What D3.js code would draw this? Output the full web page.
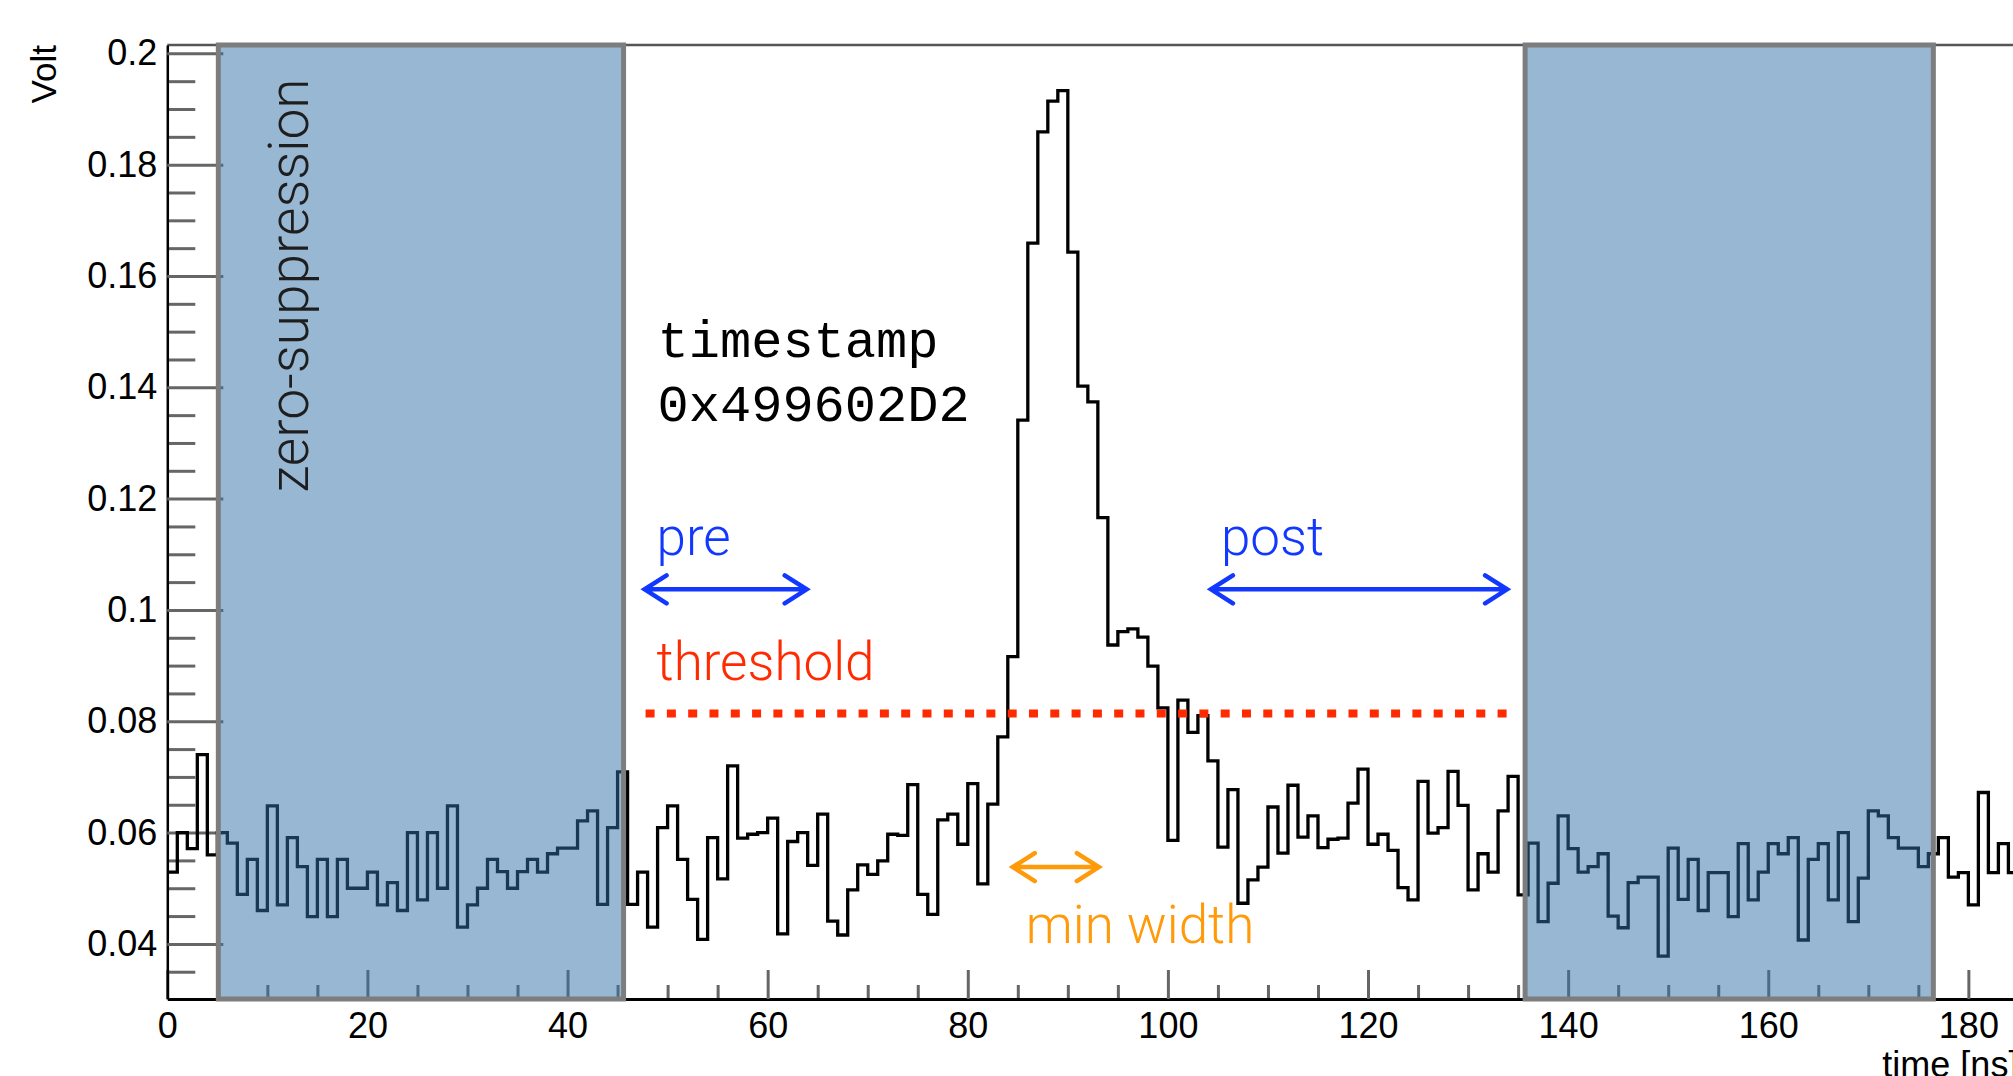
<!DOCTYPE html>
<html>
<head>
<meta charset="utf-8">
<script src="https://cdn.jsdelivr.net/npm/d3@7"></script>
<style>
  html, body { margin: 0; padding: 0; background: #fff; overflow: hidden; }
  svg { display: block; }
  .tick text { font-family: "Liberation Sans", Arial, sans-serif; fill: #000; }
</style>
</head>
<body>
<div id="waveform"></div>
<script>
// sampled waveform, one value per 1 ns bin starting at t = 0
const voltage = [
  0.0529, 0.0600, 0.0571, 0.0740, 0.0560, 0.0600, 0.0581, 0.0489, 0.0552, 0.0460,
  0.0648, 0.0470, 0.0591, 0.0539, 0.0449, 0.0552, 0.0449, 0.0552, 0.0500, 0.0500,
  0.0529, 0.0470, 0.0510, 0.0460, 0.0600, 0.0479, 0.0600, 0.0500, 0.0648, 0.0430,
  0.0470, 0.0500, 0.0552, 0.0530, 0.0500, 0.0530, 0.0552, 0.0529, 0.0562, 0.0572,
  0.0572, 0.0621, 0.0639, 0.0471, 0.0609, 0.0709, 0.0471, 0.0529, 0.0430, 0.0609,
  0.0648, 0.0552, 0.0480, 0.0408, 0.0591, 0.0517, 0.0720, 0.0590, 0.0597, 0.0600,
  0.0626, 0.0418, 0.0584, 0.0600, 0.0541, 0.0633, 0.0441, 0.0416, 0.0497, 0.0542,
  0.0525, 0.0549, 0.0597, 0.0595, 0.0686, 0.0489, 0.0453, 0.0623, 0.0633, 0.0579,
  0.0688, 0.0508, 0.0651, 0.0772, 0.0916, 0.1341, 0.1659, 0.1859, 0.1914, 0.1933,
  0.1643, 0.1402, 0.1374, 0.1166, 0.0937, 0.0961, 0.0966, 0.0951, 0.0899, 0.0824,
  0.0586, 0.0838, 0.0780, 0.0810, 0.0729, 0.0574, 0.0677, 0.0473, 0.0515, 0.0538,
  0.0646, 0.0563, 0.0685, 0.0592, 0.0630, 0.0573, 0.0588, 0.0590, 0.0653, 0.0714,
  0.0579, 0.0597, 0.0568, 0.0501, 0.0479, 0.0692, 0.0599, 0.0609, 0.0710, 0.0649,
  0.0497, 0.0562, 0.0529, 0.0639, 0.0701, 0.0488, 0.0581, 0.0440, 0.0509, 0.0630,
  0.0571, 0.0529, 0.0539, 0.0562, 0.0450, 0.0429, 0.0510, 0.0520, 0.0520, 0.0378,
  0.0572, 0.0480, 0.0552, 0.0460, 0.0528, 0.0528, 0.0449, 0.0580, 0.0479, 0.0529,
  0.0580, 0.0562, 0.0591, 0.0407, 0.0552, 0.0580, 0.0479, 0.0600, 0.0440, 0.0518,
  0.0639, 0.0630, 0.0591, 0.0572, 0.0572, 0.0539, 0.0562, 0.0591, 0.0520, 0.0528,
  0.0470, 0.0672, 0.0528, 0.0580, 0.0528
];

const xTicks = [0, 20, 40, 60, 80, 100, 120, 140, 160, 180];
const yTicks = [0.04, 0.06, 0.08, 0.1, 0.12, 0.14, 0.16, 0.18, 0.2];

// time windows [start, end] in ns
const zeroSuppression = [[5.1, 45.6], [135.7, 176.5]];
const threshold = { from: 47.8, to: 134.1, level: 0.0814 };

const arrows = [
  { from: 47.7, to: 63.9, level: 0.1037, color: "#1238ff" },   // pre
  { from: 104.3, to: 133.9, level: 0.1037, color: "#1238ff" }, // post
  { from: 84.5, to: 93.1, level: 0.0538, color: "#ff9a0a" }    // min width
];

const notes = [
  { text: "pre", t: 48.9, v: 0.1099, color: "#1238ff" },
  { text: "post", t: 105.3, v: 0.1099, color: "#1238ff" },
  { text: "threshold", t: 48.9, v: 0.0874, color: "#ff2a00" },
  { text: "min width", t: 85.8, v: 0.0402, color: "#ff9a0a" }
];
const stamp = ["timestamp", "0x499602D2"];

function main() {
  const width = 2013, height = 1076;

  const svg = d3.select("#waveform").append("svg")
    .attr("width", width)
    .attr("height", height)
    .style("background", "#fff");

  const x = d3.scaleLinear().domain([0, 185]).range([167.3, 2018.4]);
  const y = d3.scaleLinear().domain([0.0301, 0.2015]).range([999, 45]);

  // frame top
  svg.append("line")
    .attr("x1", x(0)).attr("x2", x(185))
    .attr("y1", y(0.2015)).attr("y2", y(0.2015))
    .attr("stroke", "#555").attr("stroke-width", 2.5);

  // minor ticks
  const xMinor = d3.range(0, 186, 5).filter(d => d % 20 !== 0);
  const yMinor = d3.range(0.035, 0.2, 0.005).filter(d => Math.abs(d * 50 - Math.round(d * 50)) > 1e-6);

  svg.append("g")
    .attr("transform", `translate(0,${y.range()[0]})`)
    .call(d3.axisBottom(x).tickValues(xMinor).tickSize(-14).tickSizeOuter(0).tickFormat(""))
    .call(g => g.select(".domain").remove());

  svg.append("g")
    .attr("transform", `translate(${x.range()[0]},0)`)
    .call(d3.axisLeft(y).tickValues(yMinor).tickSize(-28).tickSizeOuter(0).tickFormat(""))
    .call(g => g.select(".domain").remove());

  const xAxis = svg.append("g")
    .attr("transform", `translate(0,${y.range()[0]})`)
    .call(d3.axisBottom(x).tickValues(xTicks).tickSize(-29).tickSizeOuter(0).tickPadding(13));
  xAxis.selectAll("text").attr("font-size", 36);

  const yAxis = svg.append("g")
    .attr("transform", `translate(${x.range()[0]},0)`)
    .call(d3.axisLeft(y).tickValues(yTicks).tickSize(-56).tickSizeOuter(0).tickPadding(10)
      .tickFormat(d => String(+d.toFixed(2))));
  yAxis.selectAll("text").attr("font-size", 36);

  svg.selectAll(".tick line").attr("stroke", "#666").attr("stroke-width", 3);
  xAxis.select(".domain").attr("stroke", "#000").attr("stroke-width", 3);
  yAxis.select(".domain").attr("stroke", "#000").attr("stroke-width", 2.5);

  // waveform as a step histogram
  const steps = voltage.map((v, i) => [i, v]);
  steps.push([voltage.length, voltage[voltage.length - 1]]);

  const line = d3.line()
    .x(d => x(d[0]))
    .y(d => y(d[1]))
    .curve(d3.curveStepAfter);

  svg.append("path")
    .datum(steps)
    .attr("fill", "none")
    .attr("stroke", "#000")
    .attr("stroke-width", 3.3)
    .attr("d", line);

  // zero-suppression windows
  svg.append("g").selectAll("rect")
    .data(zeroSuppression)
    .join("rect")
    .attr("x", d => x(d[0]))
    .attr("width", d => x(d[1]) - x(d[0]))
    .attr("y", y(0.2015))
    .attr("height", y(0.0301) - y(0.2015))
    .attr("fill", "rgb(48,112,168)")
    .attr("fill-opacity", 0.5)
    .attr("stroke", "#7d7d7d")
    .attr("stroke-width", 5);

  // threshold
  svg.append("line")
    .attr("x1", x(threshold.from)).attr("x2", x(threshold.to))
    .attr("y1", y(threshold.level)).attr("y2", y(threshold.level))
    .attr("stroke", "#ff2a00")
    .attr("stroke-width", 8)
    .attr("stroke-dasharray", "9,12.3");

  // double headed arrows
  const head = 22, spread = 14;
  svg.append("g").selectAll("path")
    .data(arrows)
    .join("path")
    .attr("fill", "none")
    .attr("stroke", d => d.color)
    .attr("stroke-width", 4.5)
    .attr("stroke-linecap", "round")
    .attr("stroke-linejoin", "miter")
    .attr("d", d => {
      const x1 = x(d.from), x2 = x(d.to), yy = y(d.level);
      return `M${x1},${yy}L${x2},${yy}` +
        `M${x1 + head},${yy - spread}L${x1},${yy}L${x1 + head},${yy + spread}` +
        `M${x2 - head},${yy - spread}L${x2},${yy}L${x2 - head},${yy + spread}`;
    });

  svg.append("g").selectAll("text")
    .data(notes)
    .join("text")
    .attr("x", d => x(d.t))
    .attr("y", d => y(d.v))
    .attr("fill", d => d.color)
    .attr("font-family", "Roboto, 'Helvetica Neue', Arial, sans-serif")
    .attr("font-weight", 300)
    .attr("font-size", 53)
    .text(d => d.text);

  svg.append("g").selectAll("text")
    .data(stamp)
    .join("text")
    .attr("x", x(49.0))
    .attr("y", (d, i) => y(i === 0 ? 0.1455 : 0.1340))
    .attr("font-family", "'Liberation Mono', 'DejaVu Sans Mono', monospace")
    .attr("font-size", 52)
    .attr("fill", "#000")
    .text(d => d);

  svg.append("text")
    .attr("transform", `translate(${x(14.07)},${y(0.1211)}) rotate(-90)`)
    .attr("font-family", "Roboto, 'Helvetica Neue', Arial, sans-serif")
    .attr("font-weight", 300)
    .attr("font-size", 55)
    .attr("fill", "#1e1e1e")
    .text("zero-suppression");

  // axis titles
  svg.append("text")
    .attr("transform", `translate(56,${y(0.2015)}) rotate(-90)`)
    .attr("text-anchor", "end")
    .attr("font-family", "'Liberation Sans', Arial, sans-serif")
    .attr("font-size", 35)
    .text("Volt");

  svg.append("text")
    .attr("x", x(185))
    .attr("y", 1077)
    .attr("text-anchor", "end")
    .attr("font-family", "'Liberation Sans', Arial, sans-serif")
    .attr("font-size", 36)
    .text("time [ns]");
}
main();
</script>
</body>
</html>
